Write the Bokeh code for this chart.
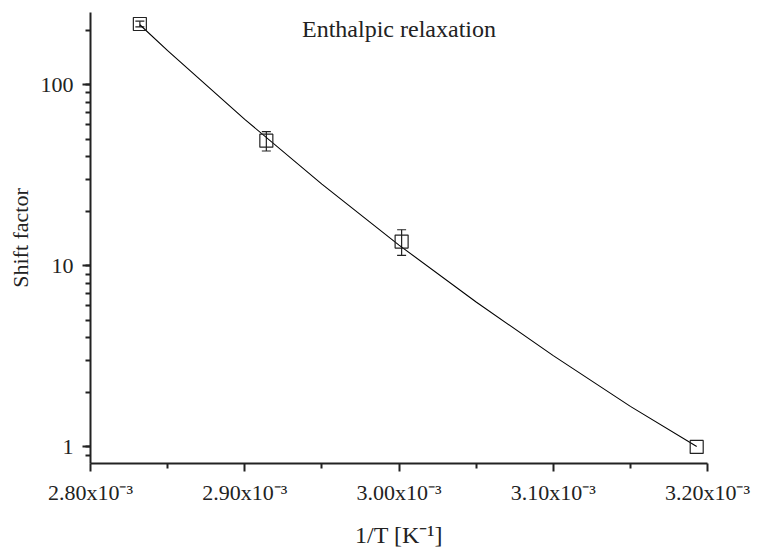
from bokeh.plotting import figure
from bokeh.models import (ColumnDataSource, Whisker, TeeHead, FixedTicker, CustomJSTickFormatter,
                          PrintfTickFormatter, Range1d, Label, LogTicker)
from bokeh.embed import file_html
from bokeh.resources import INLINE

# data
inv_T = [2.832e-3, 2.914e-3, 3.0017e-3, 3.193e-3]
shift = [216.0, 49.0, 13.6, 1.0]
shift_err = [8.0, 6.0, 2.2, float("nan")]

# fitted curve
fit_x = [2.832e-3, 2.85e-3, 2.90e-3, 2.95e-3, 3.00e-3, 3.05e-3, 3.10e-3, 3.15e-3, 3.193e-3]
fit_y = [214.0, 153.9, 64.3, 28.2, 13.0, 6.31, 3.19, 1.674, 1.006]

x_ticks = [2.80e-3, 2.90e-3, 3.00e-3, 3.10e-3, 3.20e-3]
x_minor = [2.85e-3, 2.95e-3, 3.05e-3, 3.15e-3]

FONT = "Liberation Serif"
INK = "#222222"

p = figure(width=757, height=553, y_axis_type="log", output_backend="svg",
           toolbar_location=None, x_range=Range1d(2.80e-3, 3.20e-3),
           y_range=Range1d(0.81, 250), min_border_left=90, min_border_right=50,
           min_border_top=12, min_border_bottom=90)
p.outline_line_color = None
p.grid.visible = False
p.background_fill_color = "white"
p.border_fill_color = "white"

src = ColumnDataSource(dict(x=inv_T, y=shift,
                            upper=[v + e for v, e in zip(shift, shift_err)],
                            lower=[v - e for v, e in zip(shift, shift_err)]))

p.line(fit_x, fit_y, line_color="black", line_width=1.1)
w = Whisker(source=src, base="x", upper="upper", lower="lower", line_color=INK,
            line_width=1.2,
            upper_head=TeeHead(size=9, line_color=INK, line_width=1.2),
            lower_head=TeeHead(size=9, line_color=INK, line_width=1.2))
p.add_layout(w)
p.scatter("x", "y", source=src, marker="square", size=13, fill_alpha=0,
          line_color=INK, line_width=1.2)

# x axis
p.xaxis.ticker = FixedTicker(ticks=x_ticks, minor_ticks=x_minor)
p.xaxis.formatter = CustomJSTickFormatter(code="return (tick*1000).toFixed(2) + 'x10\u207B\u00B3';")
p.xaxis.axis_label = "1/T [K\u207B\u00B9]"

# y axis
p.yaxis.ticker = LogTicker(num_minor_ticks=10)
p.yaxis.formatter = PrintfTickFormatter(format="%d")
p.yaxis.axis_label = "Shift factor"

for ax in (p.xaxis[0], p.yaxis[0]):
    ax.axis_line_width = 2
    ax.axis_line_color = INK
    ax.major_tick_line_color = INK
    ax.minor_tick_line_color = INK
    ax.major_tick_line_width = 2
    ax.minor_tick_line_width = 2
    ax.major_tick_out = 8
    ax.major_tick_in = 0
    ax.minor_tick_out = 5
    ax.minor_tick_in = 0
    ax.major_label_text_font = FONT
    ax.major_label_text_font_size = "22px"
    ax.major_label_text_color = INK
    ax.axis_label_text_font = FONT
    ax.axis_label_text_font_size = "22px"
    ax.axis_label_text_font_style = "normal"
    ax.axis_label_text_color = INK

p.xaxis.axis_label_text_font_size = "24px"
p.xaxis.major_label_standoff = 8
p.xaxis.axis_label_standoff = 14
p.yaxis.major_label_standoff = 9
p.yaxis.axis_label_standoff = 5

p.add_layout(Label(x=3.0e-3, y=203.5, text="Enthalpic relaxation", text_align="center",
                   text_baseline="middle", text_font=FONT, text_font_size="24px",
                   text_color=INK))

open("out.html", "w").write(file_html(p, INLINE))
